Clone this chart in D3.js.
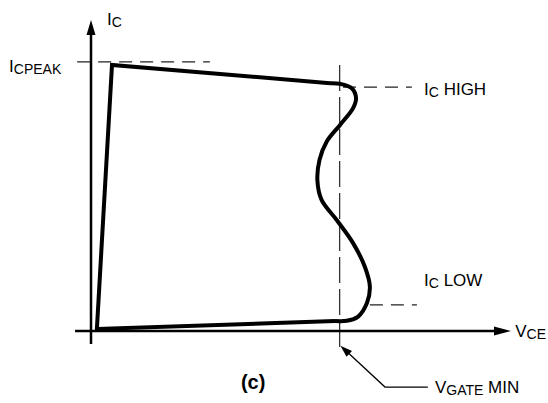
<!DOCTYPE html>
<html lang="en">
<head>
<meta charset="UTF-8">
<title>IC vs VCE</title>
<script src="https://d3js.org/d3.v7.min.js"></script>
<style>
    body { margin: 0; background: #fff; }
    text { font-family: "Liberation Sans", Arial, Helvetica, sans-serif; font-size: 17px; fill: #000; }
    .sub { font-size: 14px; }
    .caption { font-weight: bold; font-size: 20px; }
</style>
</head>
<body>
<script>
    const width = 548;
    const height = 403;

    // operating loop, VCE / IC in arbitrary units (0..100)
    const straightEdge = [[58.1, 3.3], [1.4, 0.7], [5.0, 88.7], [56.9, 82.6]];
    const bulgeEdge = [
        [56.9, 82.6], [59.3, 82.4], [62.1, 80.9], [63.1, 77.6], [62.4, 74.3],
        [59.3, 68.7], [56.1, 63.1], [54.4, 57.0], [53.9, 50.3], [54.9, 43.7],
        [58.5, 37.0], [62.4, 29.3], [65.2, 21.4], [66.4, 14.8], [65.7, 9.3],
        [63.6, 4.8], [60.9, 3.4], [58.1, 3.3]
    ];

    // reference levels
    const icPeak = 89.7, icHigh = 81.3, icLow = 8.7, vGateMin = 59.2;
    const dashedH = [
        [[-3.3, icPeak], [28.3, icPeak]],
        [[60.0, icHigh], [76.4, icHigh]],
        [[66.4, icLow], [77.6, icLow]]
    ];
    const dashedV = [[vGateMin, 88.7], [vGateMin, -6.3]];
    const leader = [[80.2, -18.7], [70.0, -18.7], [59.4, -4.9]];

    const labels = [
        { x: 3.8, y: 102, main: "I", sub: "C", rest: "" },
        { x: -19.5, y: 86.3, main: "I", sub: "CPEAK", rest: "" },
        { x: 79.3, y: 78.7, main: "I", sub: "C", rest: " HIGH" },
        { x: 79.3, y: 15.0, main: "I", sub: "C", rest: " LOW" },
        { x: 101.0, y: -2.0, main: "V", sub: "CE", rest: "" },
        { x: 81.9, y: -20.7, main: "V", sub: "GATE", rest: " MIN" }
    ];

    const svg = d3.select("body").append("svg")
        .attr("width", width)
        .attr("height", height);

    const x = d3.scaleLinear().domain([0, 100]).range([91, 511]);
    const y = d3.scaleLinear().domain([0, 100]).range([331, 31]);

    const line = d3.line().x(d => x(d[0])).y(d => y(d[1]));

    function arrowHead(tip, from, len, half) {
        const tx = x(tip[0]), ty = y(tip[1]);
        const fx = x(from[0]), fy = y(from[1]);
        const d = Math.hypot(tx - fx, ty - fy);
        const ux = (tx - fx) / d, uy = (ty - fy) / d;
        const bx = tx - ux * len, by = ty - uy * len;
        svg.append("polygon")
            .attr("points", [[tx, ty], [bx - uy * half, by + ux * half], [bx + uy * half, by - ux * half]].join(" "))
            .attr("fill", "#000");
    }

    // dashed guides
    dashedH.forEach(seg => {
        svg.append("path")
            .attr("d", line(seg))
            .attr("fill", "none")
            .attr("stroke", "#222")
            .attr("stroke-width", 1.3)
            .attr("stroke-dasharray", "13 8");
    });
    svg.append("path")
        .attr("d", line(dashedV))
        .attr("fill", "none")
        .attr("stroke", "#333")
        .attr("stroke-width", 1.3)
        .attr("stroke-dasharray", "26 6");

    // axes
    svg.append("path").attr("d", line([[0, -4.3], [0, 99]]))
        .attr("stroke", "#000").attr("stroke-width", 2.5);
    arrowHead([0, 103.7], [0, 0], 15, 4.5);
    svg.append("path").attr("d", line([[-3.8, 0], [96, 0]]))
        .attr("stroke", "#000").attr("stroke-width", 2.5);
    arrowHead([100, 0], [0, 0], 17, 4.5);

    // loop
    svg.append("path").attr("d", line(straightEdge))
        .attr("fill", "none").attr("stroke", "#000")
        .attr("stroke-width", 4).attr("stroke-linejoin", "miter");
    svg.append("path").attr("d", line.curve(d3.curveCatmullRom)(bulgeEdge))
        .attr("fill", "none").attr("stroke", "#000")
        .attr("stroke-width", 4);
    line.curve(d3.curveLinear);

    // leader to VGATE MIN
    svg.append("path").attr("d", line(leader.slice(0, 2).concat([[60.7, -6.6]])))
        .attr("fill", "none").attr("stroke", "#000").attr("stroke-width", 1.3);
    arrowHead(leader[2], leader[1], 12, 4);

    labels.forEach(l => {
        const t = svg.append("text").attr("x", x(l.x)).attr("y", y(l.y));
        t.append("tspan").text(l.main);
        t.append("tspan").attr("class", "sub").attr("dy", 2).text(l.sub);
        if (l.rest) t.append("tspan").attr("dy", -2).text(l.rest);
    });

    svg.append("text")
        .attr("class", "caption")
        .attr("x", x(38.6)).attr("y", y(-19.3))
        .attr("text-anchor", "middle")
        .text("(c)");
</script>
</body>
</html>
